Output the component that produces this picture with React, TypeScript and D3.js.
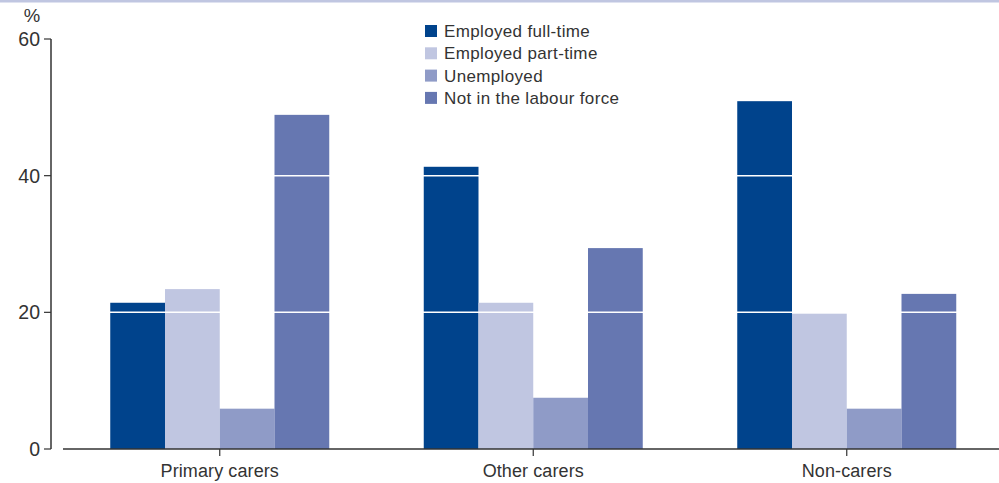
import React from "react";
import * as d3 from "d3";

const categories = ["Primary carers", "Other carers", "Non-carers"];
const seriesNames = ["Employed full-time", "Employed part-time", "Unemployed", "Not in the labour force"];
const fullTime = [21.4, 41.3, 50.9];
const partTime = [23.4, 21.4, 19.8];
const unemployed = [5.9, 7.5, 5.9];
const notInLabourForce = [48.9, 29.4, 22.7];
const yTicks = [0, 20, 40, 60];
const colors = ["#00438c", "#c0c6e1", "#8f9bc7", "#6677b1"];

const W = 999;
const H = 483;
const FONT = "'Liberation Sans', Arial, Helvetica, sans-serif";
const TEXT = "#333333";

export default function App() {
  const series = [fullTime, partTime, unemployed, notInLabourForce];
  const y = d3.scaleLinear().domain([0, 60]).range([449, 39]);
  const x0 = d3.scaleBand<string>().domain(categories).range([63, 1003.5]).padding(0);
  const x1 = d3
    .scaleBand<string>()
    .domain(seriesNames)
    .range([0, x0.bandwidth()])
    .paddingInner(0)
    .paddingOuter(0.863);

  return (
    <div style={{ position: "fixed", left: 0, top: 0, width: W, height: H, background: "#fff" }}>
      <svg width={W} height={H} style={{ display: "block" }}>
        <rect x={0} y={0} width={W} height={2.5} fill="#c0c6e1" />
        {categories.map((c, ci) => (
          <g key={c}>
            {seriesNames.map((s, si) => {
              const v = series[si][ci];
              return (
                <rect
                  key={s}
                  x={(x0(c) as number) + (x1(s) as number)}
                  y={y(v)}
                  width={x1.bandwidth()}
                  height={y(0) - y(v)}
                  fill={colors[si]}
                />
              );
            })}
          </g>
        ))}
        {yTicks
          .filter((t) => t > 0 && t < 60)
          .map((t) => (
            <line key={t} x1={63} x2={W} y1={y(t)} y2={y(t)} stroke="#fff" strokeWidth={1.5} />
          ))}
        <line x1={51} x2={51} y1={y(60)} y2={y(0)} stroke={TEXT} strokeWidth={1.5} />
        {yTicks.map((t) => (
          <g key={t}>
            <line x1={44} x2={51} y1={y(t)} y2={y(t)} stroke={TEXT} strokeWidth={1.2} />
            <text
              x={40}
              y={y(t)}
              dy="0.36em"
              textAnchor="end"
              fontFamily={FONT}
              fontSize={19.5}
              fill={TEXT}
            >
              {t}
            </text>
          </g>
        ))}
        <text x={32} y={22} textAnchor="middle" fontFamily={FONT} fontSize={18.5} fill={TEXT}>
          %
        </text>
        <line x1={63} x2={W} y1={y(0)} y2={y(0)} stroke={TEXT} strokeWidth={1.5} />
        {categories.map((c) => {
          const cx = (x0(c) as number) + x0.bandwidth() / 2;
          return (
            <g key={c}>
              <line x1={cx} x2={cx} y1={y(0)} y2={y(0) + 7} stroke={TEXT} strokeWidth={1.2} />
              <text
                x={cx}
                y={477}
                textAnchor="middle"
                fontFamily={FONT}
                fontSize={18}
                letterSpacing={0.1}
                fill={TEXT}
              >
                {c}
              </text>
            </g>
          );
        })}
        {seriesNames.map((s, i) => (
          <g key={s} transform={`translate(425, ${25 + i * 22.3})`}>
            <rect x={0} y={0} width={12} height={12} fill={colors[i]} />
            <text x={19} y={6} dy="0.36em" fontFamily={FONT} fontSize={17} letterSpacing={0.35} fill={TEXT}>
              {s}
            </text>
          </g>
        ))}
      </svg>
    </div>
  );
}
